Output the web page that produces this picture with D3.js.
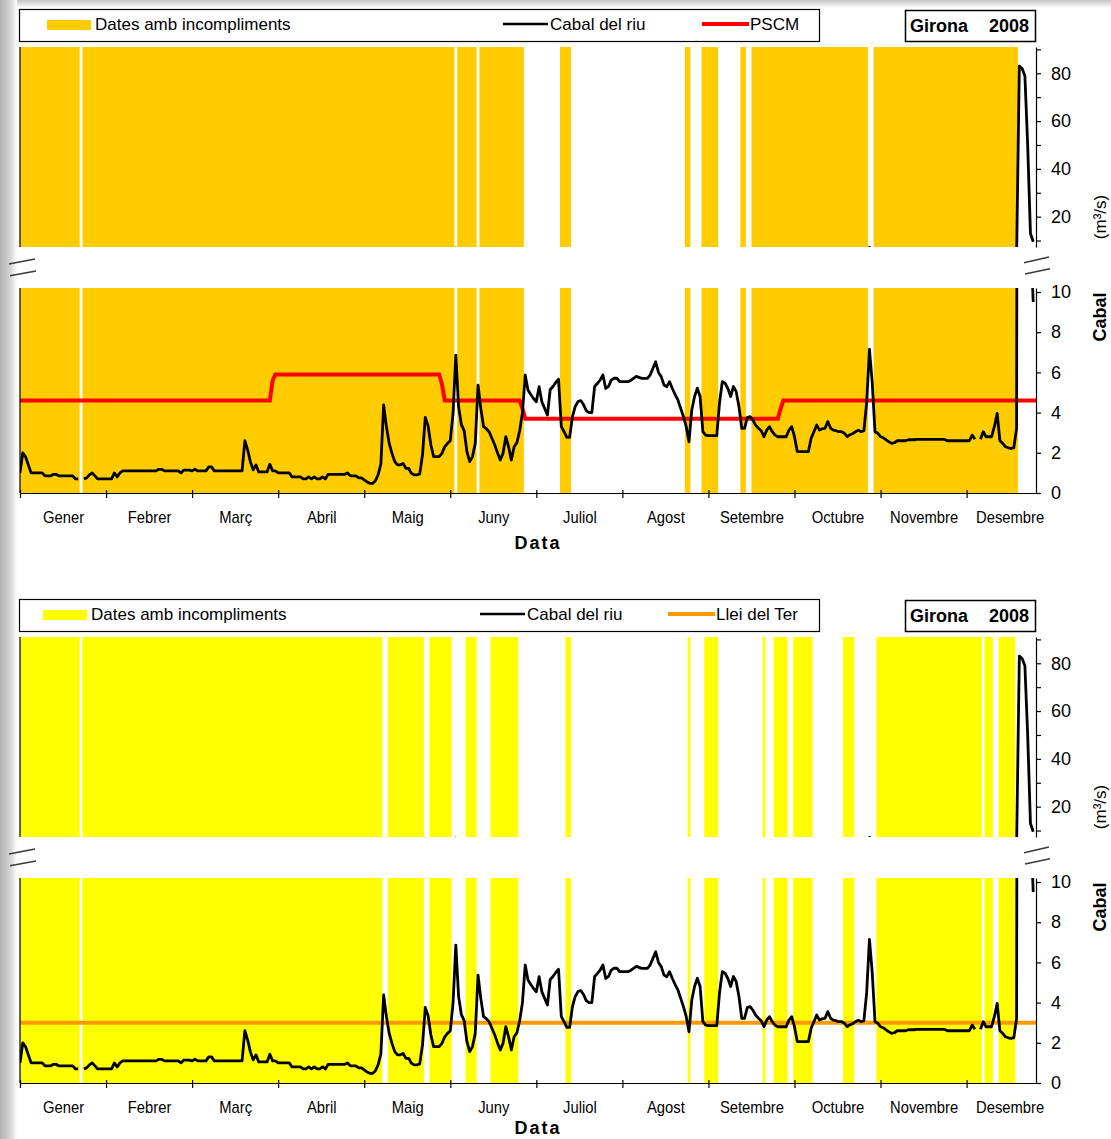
<!DOCTYPE html>
<html><head><meta charset="utf-8">
<script src="https://cdn.jsdelivr.net/npm/d3@7"></script>
<style>
body{margin:0;background:#fff;}
svg{display:block;font-family:"Liberation Sans",Arial,sans-serif;}
</style>
</head><body>
<svg id="c" width="1111" height="1139"></svg>
<script>
// ---------------- DATA ----------------
const months = ["Gener","Febrer","Març","Abril","Maig","Juny","Juliol","Agost","Setembre","Octubre","Novembre","Desembre"];
const monthTickDays = [0,31,62,93,124,155,186,217,248,279,310,341];
// daily river flow (m3/s), day 0 = 1 Jan 2008
const flow = [
 1.0,2.0,1.8,1.4,1.0,1.0,1.0,1.0,1.0,0.85,
 0.85,0.85,0.93,0.93,0.85,0.85,0.85,0.85,0.85,0.85,
 0.7,0.7,null,0.7,0.75,0.9,1.0,0.85,0.7,0.7,
 0.7,0.7,0.7,0.7,1.0,0.8,1.0,1.1,1.1,1.1,
 1.1,1.1,1.1,1.1,1.1,1.1,1.1,1.1,1.1,1.1,
 1.18,1.18,1.1,1.1,1.1,1.1,1.1,1.1,1.0,1.14,
 1.14,1.14,1.1,1.18,1.1,1.1,1.1,1.1,1.3,1.3,
 1.1,1.1,1.1,1.1,1.1,1.1,1.1,1.1,1.1,1.1,
 1.1,2.6,2.15,1.55,1.15,1.4,1.05,1.05,1.05,1.05,
 1.43,1.1,1.1,1.0,1.0,1.0,1.0,1.0,0.8,0.8,
 0.8,0.8,0.7,0.7,0.8,0.7,0.8,0.7,0.7,0.8,
 0.7,0.93,0.93,0.93,0.93,0.93,0.93,0.93,1.0,0.85,
 0.85,0.85,0.75,0.75,0.65,0.55,0.48,0.48,0.6,0.9,
 1.45,4.38,3.3,2.47,1.97,1.56,1.4,1.4,1.47,1.23,
 1.23,0.98,0.9,0.9,0.95,1.9,3.76,3.35,2.4,1.81,
 1.81,1.81,1.97,2.3,2.47,2.6,3.98,6.86,4.3,3.4,
 3.1,2.06,1.56,1.81,2.47,5.37,4.21,3.3,3.2,3.05,
 2.72,2.4,2.0,1.64,1.97,2.8,2.3,1.64,2.3,2.5,
 3.1,4.0,5.87,5.12,4.9,4.7,4.54,5.29,4.54,4.21,
 3.88,5.15,5.3,5.5,5.66,3.3,3.05,2.77,2.77,3.8,
 4.3,4.55,4.6,4.4,4.1,4.0,4.0,5.3,5.45,5.62,
 5.87,5.2,5.3,5.62,5.71,5.71,5.54,5.54,5.54,5.54,
 5.6,5.7,5.8,5.75,5.7,5.7,5.7,5.87,6.2,6.53,
 6.0,5.79,5.37,5.29,5.54,5.2,4.9,4.63,4.21,3.8,
 3.3,2.55,4.13,4.8,5.21,4.8,3.05,2.88,2.85,2.85,
 2.85,2.85,4.5,5.54,5.46,5.2,4.8,5.3,5.04,4.3,
 3.22,3.22,3.75,3.8,3.63,3.38,3.22,3.1,2.8,3.13,
 3.3,3.05,2.88,2.8,2.8,2.8,2.8,3.13,3.3,2.8,
 2.06,2.06,2.06,2.06,2.06,2.72,3.05,3.38,3.13,3.2,
 3.22,3.55,3.22,3.13,3.1,3.05,3.05,2.97,2.8,2.9,
 2.95,3.05,3.13,3.05,3.1,4.5,7.15,5.5,3.05,2.97,
 2.8,2.75,2.64,2.55,2.47,2.5,2.6,2.6,2.6,2.6,
 2.65,2.65,2.65,2.67,2.67,2.67,2.67,2.67,2.67,2.67,
 2.67,2.67,2.67,2.67,2.6,2.6,2.6,2.6,2.6,2.6,
 2.6,2.6,2.6,2.88,2.67,null,2.67,3.05,2.8,2.8,
 2.8,3.3,3.96,2.6,2.47,2.3,2.25,2.22,2.25,3.2,
 83,82,79,50,13,9.5
];
// threshold series as [day, value] vertices
const pscm = [[0,4.6],[90,4.6],[91,5.6],[92,5.9],[151,5.9],[152,5.4],[153,4.6],[180,4.6],[181,4.2],[182,3.7],[273,3.7],[274,4.2],[275,4.6],[366,4.6]];
const lleiTer = [[0,3.0],[366,3.0]];
// days with non-compliance [first, last] inclusive
const bandsPSCM = [[0,21],[23,156],[158,164],[166,181],[195,198],[240,241],[246,251],[260,261],[264,305],[308,359]];
const bandsLlei = [[0,21],[23,130],[133,145],[148,155],[161,164],[170,179],[197,198],[241,241],[247,251],[268,268],[272,276],[279,285],[297,300],[309,346],[348,350],[353,358]];
const upperTicks = [10,20,30,40,50,60,70,80,90];
const lowerTicks = [0,2,4,6,8,10];

// ---------------- DRAW ----------------
const svg = d3.select("#c");
const defs = svg.append("defs");
const grad = defs.append("linearGradient").attr("id","edge").attr("x1","0").attr("x2","1").attr("y1","0").attr("y2","0");
grad.append("stop").attr("offset","0").attr("stop-color","#b0b0b0");
grad.append("stop").attr("offset","0.6").attr("stop-color","#d4d4d4");
grad.append("stop").attr("offset","1").attr("stop-color","#ffffff");
const gradT = defs.append("linearGradient").attr("id","edgeT").attr("x1","0").attr("x2","0").attr("y1","0").attr("y2","1");
gradT.append("stop").attr("offset","0").attr("stop-color","#c4c4c4");
gradT.append("stop").attr("offset","1").attr("stop-color","#ffffff");
svg.append("rect").attr("x",0).attr("y",0).attr("width",1111).attr("height",8).attr("fill","url(#edgeT)");
svg.append("rect").attr("x",0).attr("y",0).attr("width",17).attr("height",1139).attr("fill","url(#edge)");

const x = d3.scaleLinear().domain([0,366]).range([20,1036]);

function chart(oy, cfg, idx) {
  const g = svg.append("g").attr("transform", `translate(0,${oy})`);
  const yU = d3.scaleLinear().domain([7.3,91]).range([247,47]);
  const yL = d3.scaleLinear().domain([0,10.2]).range([493,288]);
  const panels = [{y:yU, id:`u${idx}`}, {y:yL, id:`l${idx}`}];

  panels.forEach(p => {
    const [b,t] = p.y.range();
    defs.append("clipPath").attr("id", "clip"+p.id)
      .append("rect").attr("x",20).attr("y",t).attr("width",1016).attr("height",b-t);
    const pg = g.append("g").attr("clip-path", `url(#clip${p.id})`);
    pg.selectAll("rect.band").data(cfg.bands).join("rect")
      .attr("class","band")
      .attr("x", d => x(d[0]-0.5))
      .attr("width", d => x(d[1]+0.5) - x(d[0]-0.5))
      .attr("y", t).attr("height", b-t)
      .attr("fill", cfg.bandColor);
    pg.append("path").datum(cfg.thresh)
      .attr("d", d3.line().x(d=>x(d[0])).y(d=>p.y(d[1])))
      .attr("fill","none").attr("stroke",cfg.threshColor).attr("stroke-width",4);
    pg.append("path").datum(flow)
      .attr("d", d3.line().defined(d=>d!=null).x((d,i)=>x(i)).y(d=>p.y(d)))
      .attr("fill","none").attr("stroke","#000").attr("stroke-width",2.8)
      .attr("stroke-linejoin","round");
    g.append("line").attr("x1",20).attr("x2",20).attr("y1",t).attr("y2",b)
      .attr("stroke","#000").attr("stroke-width",1.2);
  });

  // right axes
  const axU = g.append("g").attr("transform","translate(1036,0)")
    .call(d3.axisRight(yU).tickValues(upperTicks).tickSizeInner(5).tickSizeOuter(0).tickPadding(10)
      .tickFormat(d => d % 20 === 0 ? d : ""));
  const axL = g.append("g").attr("transform","translate(1036,0)")
    .call(d3.axisRight(yL).tickValues(lowerTicks).tickSizeInner(5).tickSizeOuter(0).tickPadding(10));
  [axU, axL].forEach(a => {
    a.selectAll("text").attr("font-size",18).attr("fill","#000").attr("font-family","Liberation Sans, Arial, sans-serif");
    a.selectAll("path,line").attr("stroke","#000").attr("stroke-width",1.2);
  });

  // bottom axis
  const axB = g.append("g").attr("transform","translate(0,493)")
    .call(d3.axisBottom(x).tickValues(monthTickDays).tickSizeInner(5).tickSizeOuter(0).tickFormat(""));
  axB.selectAll("path,line").attr("stroke","#000").attr("stroke-width",1.2);
  axB.selectAll(".tick line").attr("y1",-3).attr("y2",5);
  const axM = g.append("g").attr("transform","translate(0,493)")
    .call(d3.axisBottom(x).tickValues(monthTickDays.map(d=>d+15.5)).tickSize(0).tickPadding(17.5)
      .tickFormat((d,i)=>months[i]));
  axM.select(".domain").remove();
  axM.selectAll("text").attr("font-size",17).attr("fill","#000")
    .attr("font-family","Liberation Sans, Arial, sans-serif")
    .attr("transform","scale(0.87,1)");

  g.append("text").attr("x",538).attr("y",cfg.dataY).attr("text-anchor","middle")
    .attr("font-size",18).attr("font-weight","bold").attr("letter-spacing",2).text("Data");

  // y title (right, rotated)
  g.append("text").attr("transform","translate(1106,317) rotate(-90)").attr("text-anchor","middle")
    .attr("font-size",18).attr("font-weight","bold").text("Cabal");
  g.append("text").attr("transform","translate(1106,217) rotate(-90)").attr("text-anchor","middle")
    .attr("font-size",17).text("(m³/s)");

  // break marks
  const bm = [[9,264,35,259],[10,275.7,36,271],[1024,262.7,1049,257],[1025,274,1050,268.7]];
  g.selectAll("line.bm").data(bm).join("line").attr("class","bm")
    .attr("x1",d=>d[0]).attr("y1",d=>d[1]).attr("x2",d=>d[2]).attr("y2",d=>d[3])
    .attr("stroke","#3a3a3a").attr("stroke-width",1.6);

  // legend
  g.append("rect").attr("x",19.5).attr("y",9.5).attr("width",800).attr("height",32)
    .attr("fill","#fff").attr("stroke","#000").attr("stroke-width",1.2);
  g.append("rect").attr("x",cfg.swX).attr("y",20).attr("width",44).attr("height",10).attr("fill",cfg.bandColor);
  g.append("text").attr("x",cfg.swX+48).attr("y",29.5).attr("font-size",17).text("Dates amb incompliments");
  g.append("line").attr("x1",cfg.blX).attr("x2",cfg.blX+45).attr("y1",24).attr("y2",24).attr("stroke","#000").attr("stroke-width",2.6);
  g.append("text").attr("x",cfg.blX+47).attr("y",29.5).attr("font-size",17).text("Cabal del riu");
  g.append("line").attr("x1",cfg.thX).attr("x2",cfg.thX+47).attr("y1",24).attr("y2",24).attr("stroke",cfg.threshColor).attr("stroke-width",4);
  g.append("text").attr("x",cfg.thX+48).attr("y",29.5).attr("font-size",17).text(cfg.threshName);

  // title box
  g.append("rect").attr("x",905.5).attr("y",10.5).attr("width",130).attr("height",31)
    .attr("fill","#fff").attr("stroke","#000").attr("stroke-width",1.5);
  g.append("text").attr("x",910).attr("y",31.5).attr("font-size",18).attr("font-weight","bold").text("Girona");
  g.append("text").attr("x",1029).attr("y",31.5).attr("text-anchor","end").attr("font-size",18).attr("font-weight","bold").text("2008");
}

chart(0, {bands:bandsPSCM, bandColor:"#FFCC00", thresh:pscm, threshColor:"#FF0000", threshName:"PSCM", swX:47, blX:503, thX:702, dataY:549}, 0);
chart(590, {bands:bandsLlei, bandColor:"#FFFF00", thresh:lleiTer, threshColor:"#FF9900", threshName:"Llei del Ter", swX:43, blX:480, thX:668, dataY:544}, 1);
</script>
</body></html>
